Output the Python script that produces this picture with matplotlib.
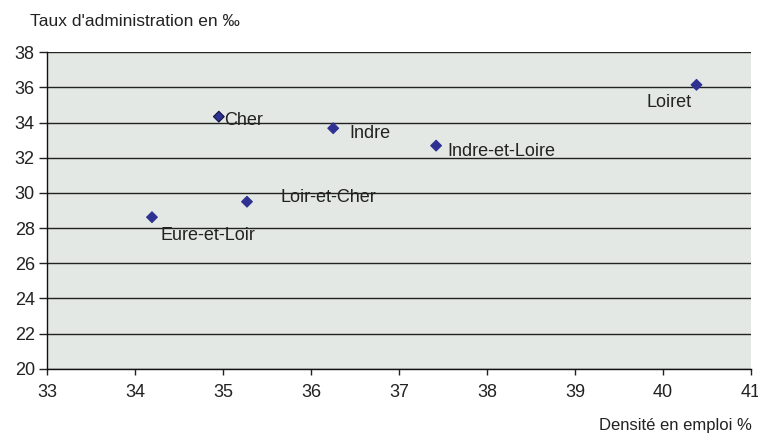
import matplotlib.pyplot as plt

plt.rcParams['font.family'] = ['Liberation Sans', 'DejaVu Sans']

depts = ['Cher', 'Indre', 'Indre-et-Loire', 'Loir-et-Cher', 'Eure-et-Loir', 'Loiret']
densite = [34.95, 36.25, 37.42, 35.27, 34.19, 40.38]
taux = [34.34, 33.68, 32.69, 29.50, 28.62, 36.15]
# label offsets in points (dx, dy)
offsets = [(4, -3), (12, -4), (8, -4), (24, 3), (6, -13), (-20, -13)]
aligns = ['left', 'left', 'left', 'left', 'left', 'center']

fig = plt.figure(figsize=(7.58, 4.38), dpi=100)
ax = fig.add_axes([0.0624, 0.1582, 0.9284, 0.7224])
ax.set_facecolor('#e3e8e4')

ax.set_xlim(33, 41)
ax.set_ylim(20, 38)
ax.set_xticks(range(33, 42))
ax.set_yticks(range(20, 39, 2))
ax.yaxis.grid(True, color='#222222', linewidth=1)
ax.set_axisbelow(True)
for s in ['top', 'right']:
    ax.spines[s].set_visible(False)
for s in ['left', 'bottom']:
    ax.spines[s].set_color('#111111')
    ax.spines[s].set_linewidth(1)
ax.tick_params(axis='y', length=6, width=1, pad=3, labelsize=13, colors='#222222')
ax.tick_params(axis='x', length=4, width=1, pad=7, labelsize=13, colors='#222222')

ax.scatter(densite, taux, marker='D', s=30, color='#2e3192', zorder=3,
           edgecolors=['#111144'] + ['#2e3192'] * 5, linewidths=0.8)

for name, x, y, (dx, dy), ha in zip(depts, densite, taux, offsets, aligns):
    ax.annotate(name, (x, y), xytext=(dx, dy), textcoords='offset points',
                ha=ha, va='center', fontsize=13, color='#222222')

fig.text(0.04, 0.952, "Taux d'administration en ‰", fontsize=12.5,
         color='#222222', va='center', ha='left')
fig.text(0.992, 0.028, 'Densité en emploi %', fontsize=12,
         color='#222222', va='center', ha='right')

fig.savefig('out.png', dpi=100)
